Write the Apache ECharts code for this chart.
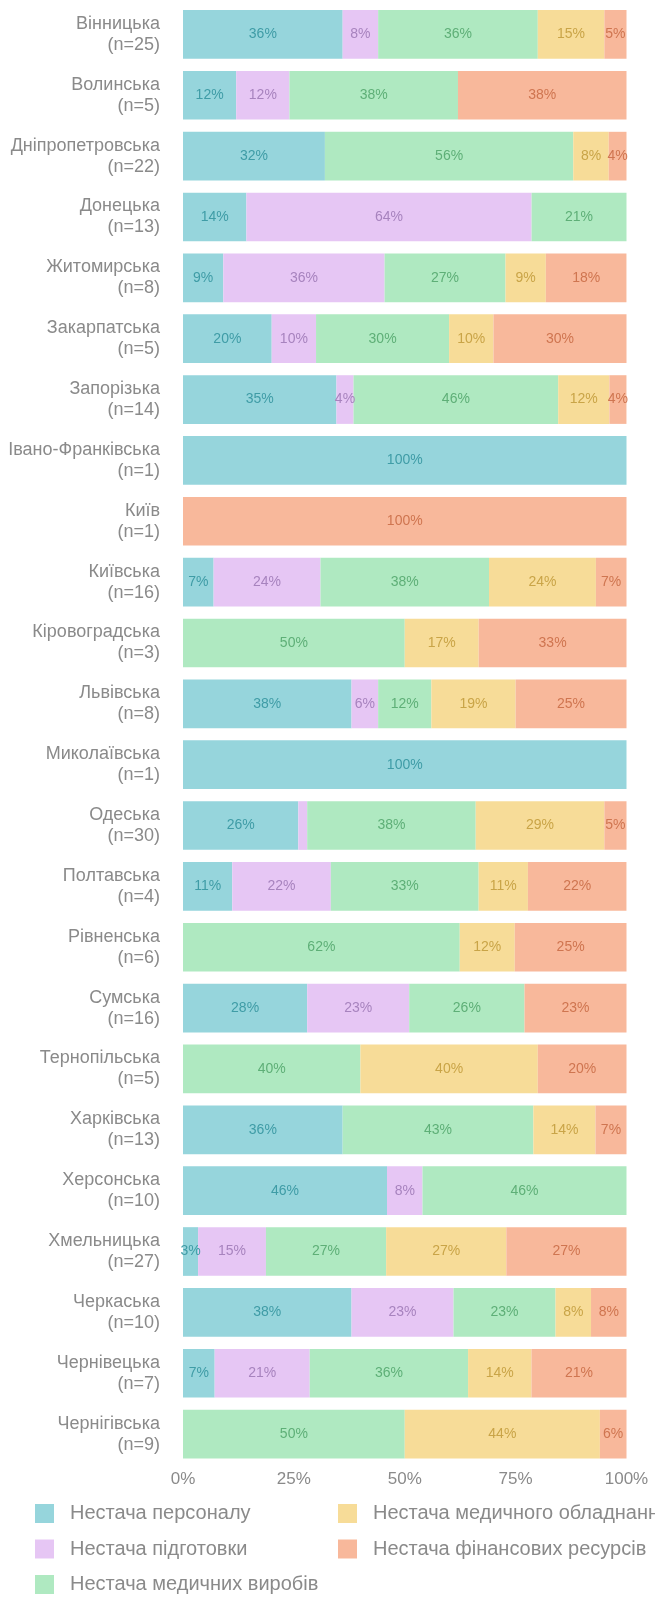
<!DOCTYPE html>
<html>
<head>
<meta charset="utf-8">
<script src="https://cdn.jsdelivr.net/npm/echarts@6/dist/echarts.min.js"></script>
<style>
  html, body { margin: 0; padding: 0; background: #ffffff; }
  #chart { width: 655px; height: 1597px; }
</style>
</head>
<body>
<div id="chart"></div>
<script>
// Regions and number of respondents per region
const regions = ['Вінницька', 'Волинська', 'Дніпропетровська', 'Донецька', 'Житомирська',
  'Закарпатська', 'Запорізька', 'Івано-Франківська', 'Київ', 'Київська', 'Кіровоградська',
  'Львівська', 'Миколаївська', 'Одеська', 'Полтавська', 'Рівненська', 'Сумська',
  'Тернопільська', 'Харківська', 'Херсонська', 'Хмельницька', 'Черкаська', 'Чернівецька',
  'Чернігівська'];
const respondents = [25, 5, 22, 13, 8, 5, 14, 1, 1, 16, 3, 8, 1, 30, 4, 6, 16, 5, 13, 10, 27, 10, 7, 9];

const seriesNames = ['Нестача персоналу', 'Нестача підготовки', 'Нестача медичних виробів',
  'Нестача медичного обладнання', 'Нестача фінансових ресурсів'];

// Share of answers (%) per region, one array per problem
const staff     = [36, 12, 32, 14.3, 9.09, 20, 34.6, 100, 0, 6.9, 0, 38, 100, 26, 11.11, 0, 28, 0, 36, 46, 3.4, 38, 7.14, 0];
const training  = [8, 12, 0, 64.3, 36.36, 10, 3.85, 0, 0, 24.1, 0, 6, 0, 2, 22.22, 0, 23, 0, 0, 8, 15.3, 23, 21.43, 0];
const supplies  = [36, 38, 56, 21.4, 27.27, 30, 46.15, 0, 0, 38, 50, 12, 0, 38, 33.33, 62.4, 26, 40, 43, 46, 27.1, 23, 35.71, 50];
const equipment = [15, 0, 8, 0, 9.09, 10, 11.54, 0, 0, 24.1, 16.67, 19, 0, 29, 11.11, 12.4, 0, 40, 14, 0, 27.1, 8, 14.29, 44];
const finance   = [5, 38, 4, 0, 18.18, 30, 3.85, 0, 100, 6.9, 33.33, 25, 0, 5, 22.22, 25.2, 23, 20, 7, 0, 27.1, 8, 21.43, 6];

const xTicks = [0, 25, 50, 75, 100];

const fills = ['#96D5DC', '#E6C6F4', '#AFE9C1', '#F7DC98', '#F8B89B'];
const labelColors = ['#3F9CA6', '#A783BE', '#5EAF77', '#C9A447', '#CF7550'];
const values = [staff, training, supplies, equipment, finance];

const FONT = '"Liberation Sans", Arial, sans-serif';
const GREY = '#8a8a8a';

const categoryLabels = regions.map((r, i) => r + '\n(n=' + respondents[i] + ')');

const series = seriesNames.map((name, k) => ({
  name: name,
  type: 'bar',
  stack: 'total',
  barCategoryGap: '20%',
  data: values[k],
  itemStyle: { color: fills[k] },
  label: {
    show: true,
    position: 'inside',
    fontFamily: FONT,
    fontSize: 14,
    color: labelColors[k],
    formatter: p => (p.value >= 3 ? Math.round(p.value) + '%' : '')
  },
  emphasis: { disabled: true }
}));

// Legend laid out in two columns: three entries on the left, two on the right
const legendSlots = [
  { left: 35, top: 1503.5 }, { left: 35, top: 1539 }, { left: 35, top: 1574.5 },
  { left: 338, top: 1503.5 }, { left: 338, top: 1539 }
];
const legends = seriesNames.map((name, k) => ({
  data: [name],
  left: legendSlots[k].left,
  top: legendSlots[k].top,
  padding: 0,
  itemWidth: 19,
  itemHeight: 19,
  icon: 'rect',
  textStyle: { fontFamily: FONT, fontSize: 20, color: GREY, padding: [0, 0, 0, 11] }
}));

const chart = echarts.init(document.getElementById('chart'), null, { renderer: 'canvas' });
chart.setOption({
  animation: false,
  backgroundColor: '#ffffff',
  textStyle: { fontFamily: FONT },
  grid: { left: 183, right: 28.5, top: 4, bottom: 132.5, containLabel: false },
  xAxis: {
    type: 'value',
    min: xTicks[0],
    max: xTicks[xTicks.length - 1],
    interval: xTicks[1] - xTicks[0],
    axisLine: { show: false },
    axisTick: { show: false },
    splitLine: { show: false },
    axisLabel: { formatter: '{value}%', fontFamily: FONT, fontSize: 17, color: GREY, margin: 6 }
  },
  yAxis: {
    type: 'category',
    inverse: true,
    data: categoryLabels,
    axisLine: { show: false },
    axisTick: { show: false },
    axisLabel: { fontFamily: FONT, fontSize: 18, lineHeight: 21, color: GREY, margin: 23, align: 'right' }
  },
  legend: legends,
  series: series
});
</script>
</body>
</html>
